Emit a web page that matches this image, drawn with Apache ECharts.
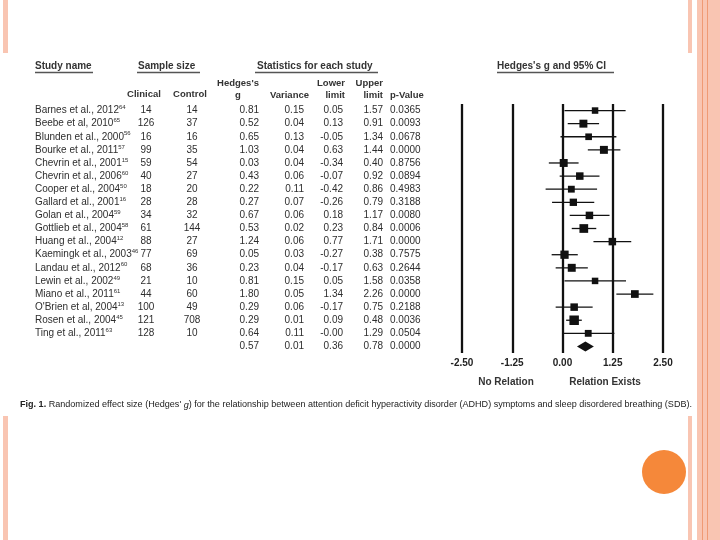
<!DOCTYPE html>
<html><head><meta charset="utf-8">
<script src="https://cdn.jsdelivr.net/npm/echarts@6/dist/echarts.min.js"></script>
<style>html,body{margin:0;padding:0;background:#fff}#c{width:720px;height:540px}</style>
</head><body><div id="c"></div>
<script>
// ---- data ----
const studyNames = ['Barnes et al., 2012','Beebe et al, 2010','Blunden et al., 2000','Bourke et al., 2011','Chevrin et al., 2001','Chevrin et al., 2006','Cooper et al., 2004','Gallard et al., 2001','Golan et al., 2004','Gottlieb et al., 2004','Huang et al., 2004','Kaemingk et al., 2003','Landau et al., 2012','Lewin et al., 2002','Miano et al., 2011',"O'Brien et al, 2004",'Rosen et al., 2004','Ting et al., 2011'];
const refNumbers = ['64','65','56','57','15','60','50','16','59','58','12','46','60','49','61','13','45','63'];
const clinicalN = [14,126,16,99,59,40,18,28,34,61,88,77,68,21,44,100,121,128];
const controlN = [14,37,16,35,54,27,20,28,32,144,27,69,36,10,60,49,708,10];
const hedgesG = [0.81,0.52,0.65,1.03,0.03,0.43,0.22,0.27,0.67,0.53,1.24,0.05,0.23,0.81,1.80,0.29,0.29,0.64];
const variance = [0.15,0.04,0.13,0.04,0.04,0.06,0.11,0.07,0.06,0.02,0.06,0.03,0.04,0.15,0.05,0.06,0.01,0.11];
const lowerLimit = [0.05,0.13,-0.05,0.63,-0.34,-0.07,-0.42,-0.26,0.18,0.23,0.77,-0.27,-0.17,0.05,1.34,-0.17,0.09,-0.00];
const upperLimit = [1.57,0.91,1.34,1.44,0.40,0.92,0.86,0.79,1.17,0.84,1.71,0.38,0.63,1.58,2.26,0.75,0.48,1.29];
const pValue = ['0.0365','0.0093','0.0678','0.0000','0.8756','0.0894','0.4983','0.3188','0.0080','0.0006','0.0000','0.7575','0.2644','0.0358','0.0000','0.2188','0.0036','0.0504'];
const summary = {g:0.57, variance:0.01, lower:0.36, upper:0.78, p:'0.0000'};
const xTicks = [-2.5,-1.25,0,1.25,2.5];

// ---- helpers ----
const categories = studyNames.concat(['Summary']);
const SUM = studyNames.length;
function fmt(v){ const s = Math.abs(v).toFixed(2); return (v < 0 || Object.is(v,-0)) ? '-' + s : s; }
const FONT = "'Liberation Sans', Arial, sans-serif";
const TXT = '#2e2e2e';

const chart = echarts.init(document.getElementById('c'));

function txt(x, y, s, align, extra){
  return {type:'text', x:x, y:y, style:Object.assign({text:s, fill:TXT, font:'10px '+FONT, textAlign:align||'left', textVerticalAlign:'middle', verticalAlign:'middle'}, extra||{})};
}

function tableItem(params, api){
  const i = params.dataIndex;
  const y = api.coord([0, i])[1];
  const X = v => api.coord([v, i])[0];
  const ch = [];
  if (i < SUM) {
    ch.push({type:'text', x:X(35), y:y, style:{text:'{n|'+studyNames[i]+'}{s|'+refNumbers[i]+'}', fill:TXT, font:'10px '+FONT, verticalAlign:'middle',
      rich:{n:{fontSize:10, fontFamily:'Liberation Sans', lineHeight:12, fill:TXT}, s:{fontSize:6, fontFamily:'Liberation Sans', lineHeight:12, verticalAlign:'top', fill:TXT}}}});
    ch.push(txt(X(146), y, String(clinicalN[i]), 'center'));
    ch.push(txt(X(192), y, String(controlN[i]), 'center'));
    ch.push(txt(X(259), y, fmt(hedgesG[i]), 'right'));
    ch.push(txt(X(304), y, fmt(variance[i]), 'right'));
    ch.push(txt(X(343), y, fmt(lowerLimit[i]), 'right'));
    ch.push(txt(X(383), y, fmt(upperLimit[i]), 'right'));
    ch.push(txt(X(390), y, pValue[i], 'left'));
  } else {
    ch.push(txt(X(259), y, fmt(summary.g), 'right'));
    ch.push(txt(X(304), y, fmt(summary.variance), 'right'));
    ch.push(txt(X(343), y, fmt(summary.lower), 'right'));
    ch.push(txt(X(383), y, fmt(summary.upper), 'right'));
    ch.push(txt(X(390), y, summary.p, 'left'));
  }
  return {type:'group', children:ch};
}

function forestItem(params, api){
  const i = api.value(1);
  const p = api.coord([api.value(0), i]);
  const l = api.coord([api.value(2), i]);
  const u = api.coord([api.value(3), i]);
  const sz = 6.5 + 1.1*Math.log(0.15/api.value(4));
  return {type:'group', children:[
    {type:'line', shape:{x1:l[0], y1:l[1], x2:u[0], y2:u[1]}, style:{stroke:'#111', lineWidth:1.3}},
    {type:'rect', shape:{x:p[0]-sz/2, y:p[1]-sz/2, width:sz, height:sz}, style:{fill:'#111'}}
  ]};
}

function diamondItem(params, api){
  const i = api.value(1);
  const p = api.coord([api.value(0), i]);
  const l = api.coord([api.value(2), i]);
  const u = api.coord([api.value(3), i]);
  return {type:'polygon', shape:{points:[[l[0],p[1]],[p[0],p[1]-5],[u[0],p[1]],[p[0],p[1]+5]]}, style:{fill:'#111'}};
}

// caption width fit
const ctx = document.createElement('canvas').getContext('2d');
function tw(font, s){ ctx.font = font; return ctx.measureText(s).width; }
const CAP_FONT = "'Liberation Sans Narrow', 'Liberation Sans', sans-serif";
const capA = 'Fig. 1.', capB = ' Randomized effect size (Hedges\' ', capC = 'g', capD = ') for the relationship between attention deficit hyperactivity disorder (ADHD) symptoms and sleep disordered breathing (SDB).';
const capW = tw('bold 9px '+CAP_FONT, capA) + tw('9px '+CAP_FONT, capB+capD) + tw('italic 9px '+CAP_FONT, capC);
const capScale = 672 / capW;

const pink = '#F9C5B2';
const graphics = [
  // slide decorations
  {type:'rect', shape:{x:3, y:0, width:5, height:53}, style:{fill:pink}},
  {type:'rect', shape:{x:3, y:416, width:5, height:124}, style:{fill:pink}},
  {type:'rect', shape:{x:688, y:0, width:4, height:53}, style:{fill:pink}},
  {type:'rect', shape:{x:688, y:416, width:4, height:124}, style:{fill:pink}},
  {type:'rect', shape:{x:697, y:0, width:23, height:540}, style:{fill:pink}},
  {type:'line', shape:{x1:702.5, y1:0, x2:702.5, y2:540}, style:{stroke:'#F09A74', lineWidth:1}},
  {type:'line', shape:{x1:707.5, y1:0, x2:707.5, y2:540}, style:{stroke:'#F09A74', lineWidth:1}},
  {type:'circle', shape:{cx:664, cy:472, r:22}, style:{fill:'#F5883A'}},
  // headers
  txt(35, 66, 'Study name', 'left', {font:'bold 10px '+FONT, fill:'#333'}),
  txt(138, 66, 'Sample size', 'left', {font:'bold 10px '+FONT, fill:'#333'}),
  txt(257, 66, 'Statistics for each study', 'left', {font:'bold 10px '+FONT, fill:'#333'}),
  txt(497, 66, "Hedges's g and 95% CI", 'left', {font:'bold 10px '+FONT, fill:'#333'}),
  {type:'line', shape:{x1:35, y1:72.5, x2:93, y2:72.5}, style:{stroke:'#555', lineWidth:1.5}},
  {type:'line', shape:{x1:137, y1:72.5, x2:200, y2:72.5}, style:{stroke:'#555', lineWidth:1.5}},
  {type:'line', shape:{x1:255, y1:72.5, x2:378, y2:72.5}, style:{stroke:'#555', lineWidth:1.5}},
  {type:'line', shape:{x1:497, y1:72.5, x2:614, y2:72.5}, style:{stroke:'#555', lineWidth:1.5}},
  txt(238, 83, "Hedges's", 'center', {font:'bold 9.5px '+FONT, fill:'#333'}),
  txt(238, 95, 'g', 'center', {font:'bold 9.5px '+FONT, fill:'#333'}),
  txt(144, 94, 'Clinical', 'center', {font:'bold 9.5px '+FONT, fill:'#333'}),
  txt(190, 94, 'Control', 'center', {font:'bold 9.5px '+FONT, fill:'#333'}),
  txt(309, 95, 'Variance', 'right', {font:'bold 9.5px '+FONT, fill:'#333'}),
  txt(345, 83, 'Lower', 'right', {font:'bold 9.5px '+FONT, fill:'#333'}),
  txt(345, 95, 'limit', 'right', {font:'bold 9.5px '+FONT, fill:'#333'}),
  txt(383, 83, 'Upper', 'right', {font:'bold 9.5px '+FONT, fill:'#333'}),
  txt(383, 95, 'limit', 'right', {font:'bold 9.5px '+FONT, fill:'#333'}),
  txt(390, 95, 'p-Value', 'left', {font:'bold 9.5px '+FONT, fill:'#333'}),
  // bottom labels
  txt(506, 382, 'No Relation', 'center', {font:'bold 10px '+FONT, fill:'#333'}),
  txt(605, 382, 'Relation Exists', 'center', {font:'bold 10px '+FONT, fill:'#333'}),
  // caption
  {type:'text', x:20, y:405, scaleX:capScale, style:{
    text:'{b|'+capA+'}{r|'+capB+'}{i|'+capC+'}{r|'+capD+'}', verticalAlign:'middle', fill:'#222',
    rich:{b:{fontWeight:'bold', fontSize:9, fontFamily:CAP_FONT, fill:'#222'}, r:{fontSize:9, fontFamily:CAP_FONT, fill:'#222'}, i:{fontStyle:'italic', fontSize:9, fontFamily:CAP_FONT, fill:'#222'}}
  }}
];

const option = {
  animation:false,
  backgroundColor:'#fff',
  grid:[
    {left:0, top:104, width:460, height:249},
    {left:462, top:104, width:201, height:249}
  ],
  xAxis:[
    {gridIndex:0, type:'value', min:0, max:460, show:false},
    {gridIndex:1, type:'value', min:-2.5, max:2.5, interval:1.25,
      axisLine:{show:false}, axisTick:{show:false},
      splitLine:{show:true, showMinLine:true, showMaxLine:true, lineStyle:{color:'#111', width:2.3, type:'solid'}},
      axisLabel:{formatter:v => v.toFixed(2), fontFamily:FONT, fontWeight:'bold', fontSize:10, color:'#222', margin:5}}
  ],
  yAxis:[
    {gridIndex:0, type:'category', data:categories, inverse:true, show:false},
    {gridIndex:1, type:'category', data:categories, inverse:true, show:false}
  ],
  series:[
    {type:'custom', xAxisIndex:0, yAxisIndex:0, renderItem:tableItem, data:categories.map((c,i)=>[0,i]), encode:{x:0, y:1}, silent:true},
    {type:'custom', xAxisIndex:1, yAxisIndex:1, renderItem:forestItem,
      data:hedgesG.map((g,i)=>[g, i, lowerLimit[i], upperLimit[i], variance[i]]), encode:{x:[0,2,3], y:1}, silent:true},
    {type:'custom', xAxisIndex:1, yAxisIndex:1, renderItem:diamondItem,
      data:[[summary.g, SUM, summary.lower, summary.upper]], encode:{x:[0,2,3], y:1}, silent:true}
  ],
  graphic:graphics
};
chart.setOption(option);
</script></body></html>
